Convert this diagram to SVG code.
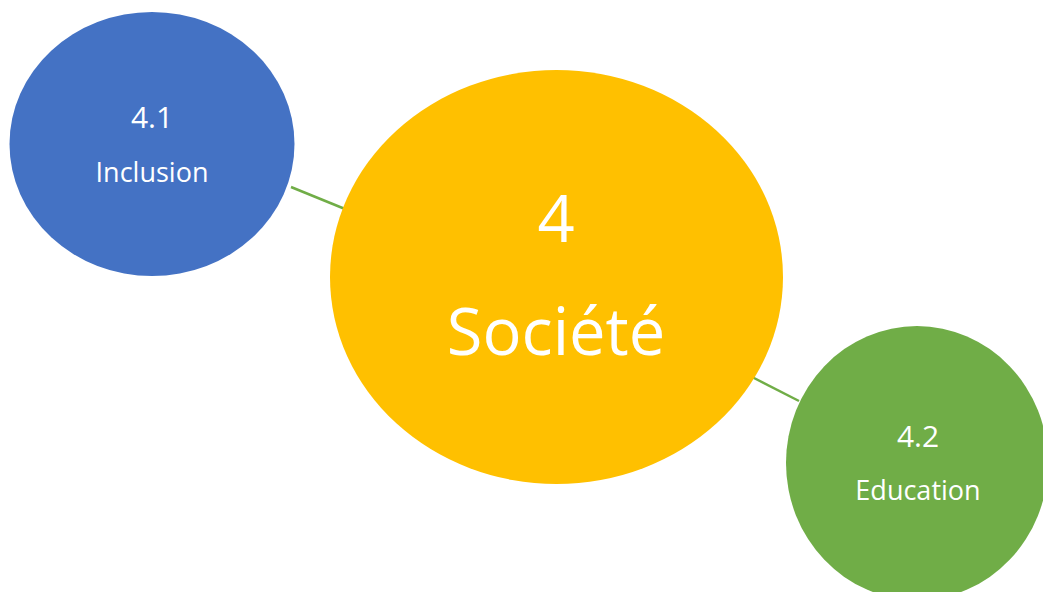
<svg xmlns="http://www.w3.org/2000/svg" width="1043" height="592" viewBox="0 0 1043 592">
  <style>
    .link { stroke: #70AD47; stroke-width: 2.5; fill: none; }
    .lbl { fill: #FFFFFF; font-family: "Open Sans", "Noto Sans", "Liberation Sans", sans-serif; text-anchor: middle; }
    .num { font-size: 30px; }
    .name { font-size: 27px; }
    .big { font-size: 65px; }
  </style>
  <rect width="1043" height="592" fill="#FFFFFF"/>
  <g id="connectors">
    <line class="link" x1="291" y1="187" x2="345" y2="209"/>
    <line class="link" x1="752" y1="377" x2="799" y2="401"/>
  </g>
  <g id="node-inclusion">
    <ellipse cx="152" cy="144" rx="142.5" ry="132" fill="#4472C4"/>
    <text class="lbl num" x="152" y="128">4.1</text>
    <text class="lbl name" x="152" y="182">Inclusion</text>
  </g>
  <g id="node-societe">
    <ellipse cx="556.5" cy="277" rx="226.5" ry="207" fill="#FFC000"/>
    <text class="lbl big" x="556" y="242">4</text>
    <text class="lbl big" x="556" y="355">Société</text>
  </g>
  <g id="node-education">
    <ellipse cx="917" cy="463" rx="131" ry="137" fill="#70AD47"/>
    <text class="lbl num" x="918" y="447">4.2</text>
    <text class="lbl name" x="918" y="500">Education</text>
  </g>
</svg>
